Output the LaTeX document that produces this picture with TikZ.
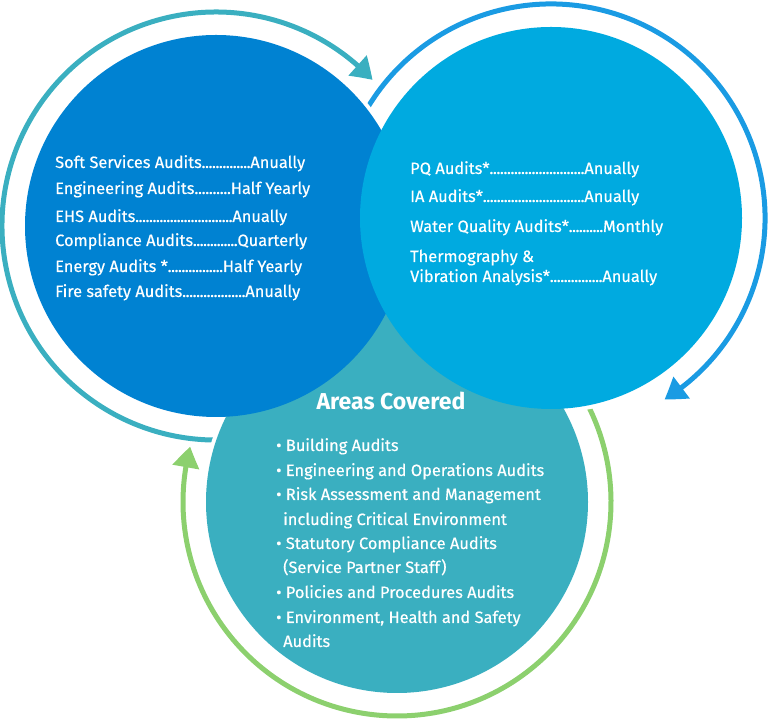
\documentclass[tikz,border=0pt]{standalone}
\usepackage{fontspec}
\setmainfont{Fira Sans}
\newfontfamily\itemfont{Fira Sans}[FakeBold=0.35]
\usetikzlibrary{arrows.meta,bending}
\definecolor{discL}{HTML}{0082D2}
\definecolor{discR}{HTML}{00AAE0}
\definecolor{discB}{HTML}{3AAFC0}
\definecolor{ringL}{HTML}{3AAFC0}
\definecolor{ringR}{HTML}{1A9BE3}
\definecolor{ringB}{HTML}{8CD06E}
\newcommand{\dotline}[3]{\hbox to #2{#1\xleaders\hbox to 3.4pt{\hss.\hss}\hfill #3}}
\tikzset{
  disc/.style={circle, minimum size=382pt, inner sep=0pt, fill=#1},
  halo/.style={draw=white, line width=8pt},
  ring/.style={draw=#1, line width=5pt, -{Triangle[length=21pt,width=26pt,bend]}},
  item/.style={anchor=base west, inner sep=0pt, text=white, font=\itemfont\fontsize{16.4}{19}\selectfont},
  title/.style={anchor=base, inner sep=0pt, text=white, font=\fontsize{23}{26}\selectfont\bfseries}
}
\begin{document}
\begin{tikzpicture}[x=1pt,y=1pt]
\useasboundingbox (0,0) rectangle (768,719);
\coordinate (cL) at (216,493);
\coordinate (cR) at (551,501);
\coordinate (cB) at (397,217);
% rings
\draw[ring=ringL] ([shift={(280:214)}]cL) arc[start angle=280, end angle=43, radius=214];
\draw[ring=ringR] ([shift={(160:214)}]cR) arc[start angle=160, end angle=-58, radius=214];
\draw[ring=ringB] ([shift={(40:214)}]cB) arc[start angle=40, end angle=-195, radius=214];
% halos
\draw[halo] (cB) circle[radius=191];
\draw[halo] (cL) circle[radius=191];
\draw[halo] (cR) circle[radius=191];
% discs
\node[disc=discB] (B) at (cB) {};
\node[disc=discL] (L) at (cL) {};
\node[disc=discR] (R) at (cR) {};
% left texts
\node[item] (l1) at (55,551) {\dotline{Soft Services Audits}{250pt}{Anually}};
\node[item] (l2) at (55,525) {\dotline{Engineering Audits}{255pt}{Half Yearly}};
\node[item] (l3) at (55,497) {\dotline{EHS Audits}{232pt}{Anually}};
\node[item] (l4) at (55,473) {\dotline{Compliance Audits}{252pt}{Quarterly}};
\node[item] (l5) at (55,447) {\dotline{Energy Audits *}{247pt}{Half Yearly}};
\node[item] (l6) at (55,422) {\dotline{Fire safety Audits}{245pt}{Anually}};
% right texts
\node[item] (r1) at (410,545) {\dotline{PQ Audits*}{229pt}{Anually}};
\node[item] (r2) at (410,517) {\dotline{IA Audits*}{229pt}{Anually}};
\node[item] (r3) at (410,487) {\dotline{Water Quality Audits*}{253pt}{Monthly}};
\node[item] (r4) at (410,457) {Thermography \&};
\node[item] (r5) at (410,437) {\dotline{Vibration Analysis*}{247pt}{Anually}};
% bottom texts
\node[title] (bt) at (391,309) {Areas Covered};
\node[item] (b1) at (276,268) {• Building Audits};
\node[item] (b2) at (276,243) {• Engineering and Operations Audits};
\node[item] (b3) at (276,219) {• Risk Assessment and Management};
\node[item] (b4) at (283,194) {including Critical Environment};
\node[item] (b5) at (276,170) {• Statutory Compliance Audits};
\node[item] (b6) at (283,146) {(Service Partner Staff)};
\node[item] (b7) at (276,121) {• Policies and Procedures Audits};
\node[item] (b8) at (276,96) {• Environment, Health and Safety};
\node[item] (b9) at (283,72) {Audits};
\end{tikzpicture}
\end{document}
